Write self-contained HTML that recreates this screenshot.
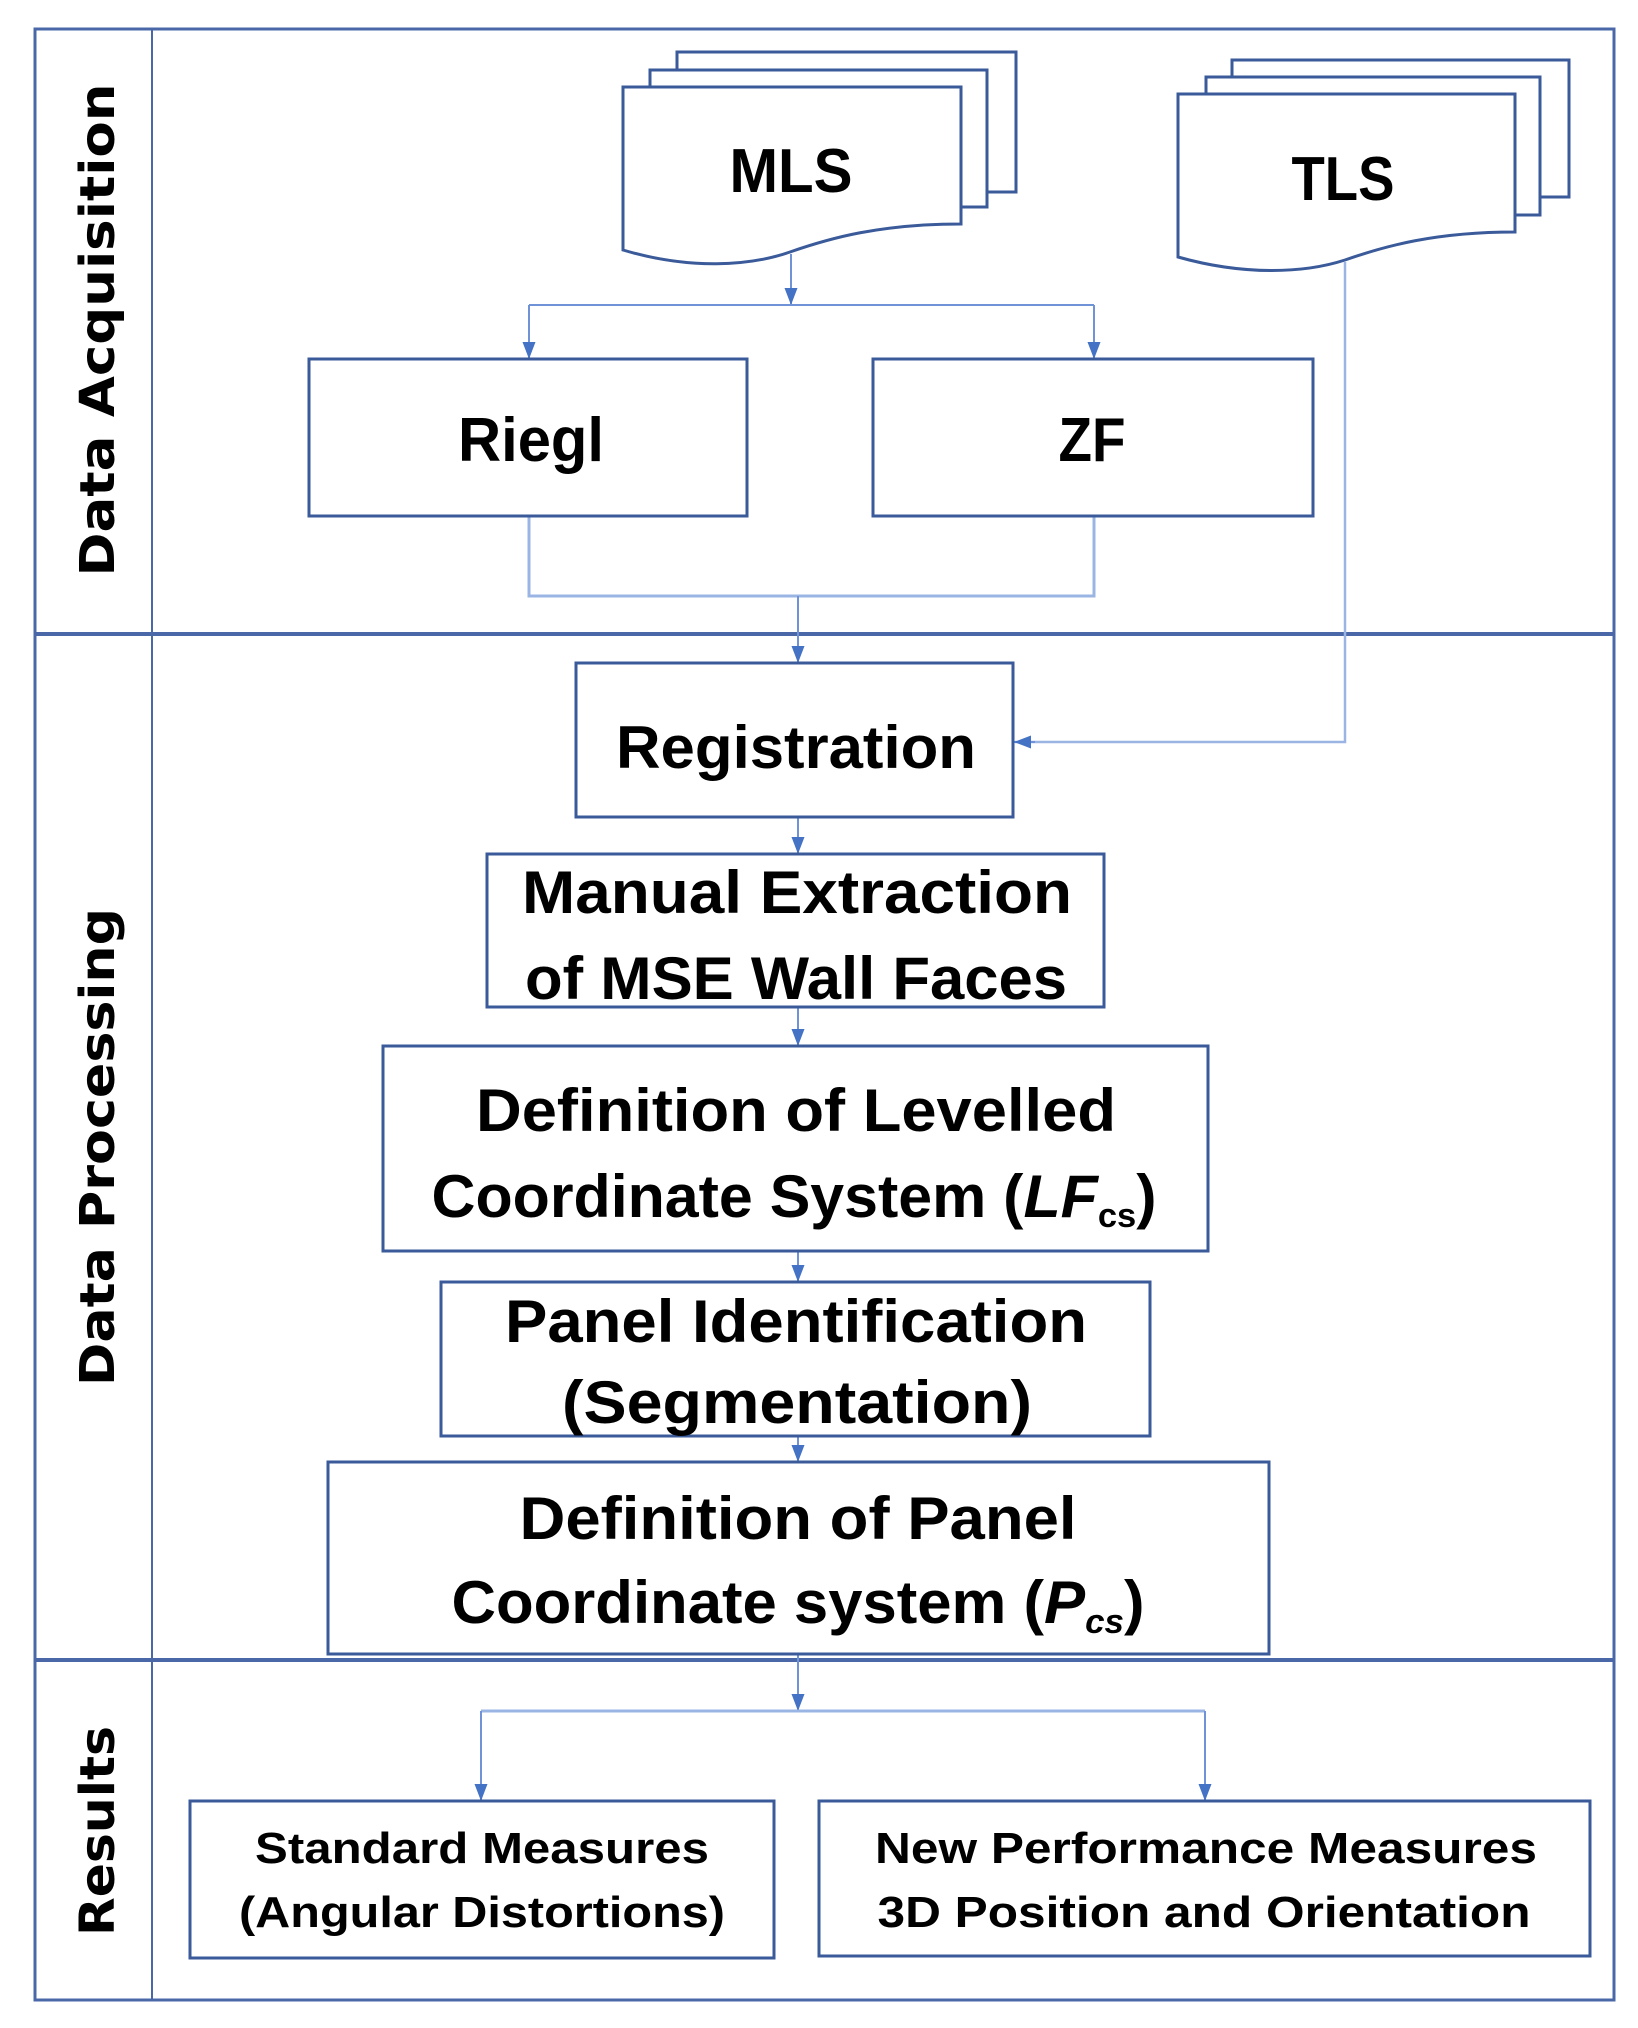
<!DOCTYPE html>
<html><head><meta charset="utf-8"><style>html,body{margin:0;padding:0;background:#fff}svg{display:block}</style></head><body>
<svg width="1638" height="2028" viewBox="0 0 1638 2028" xmlns="http://www.w3.org/2000/svg">
<defs>
<marker id="a" markerWidth="17" markerHeight="13" refX="17" refY="6.5" orient="auto" markerUnits="userSpaceOnUse" viewBox="0 0 17 13"><path d="M0,0 L17,6.5 L0,13 Z" fill="#4472c4"/></marker>
</defs>
<g fill="none" stroke="#4a68a8" stroke-width="3">
<rect x="35" y="29" width="1579" height="1971"/>
<line x1="152" y1="29" x2="152" y2="2000" stroke-width="2"/>
<line x1="35" y1="634" x2="1614" y2="634" stroke-width="4"/>
<line x1="35" y1="1660" x2="1614" y2="1660" stroke-width="4"/>
</g>
<g font-family="DejaVu Sans, sans-serif" font-weight="bold" font-size="48" fill="#000" text-anchor="middle">
<text transform="translate(114,330) rotate(-90)" textLength="493" lengthAdjust="spacingAndGlyphs">Data Acquisition</text>
<text transform="translate(114,1147) rotate(-90)" textLength="478" lengthAdjust="spacingAndGlyphs">Data Processing</text>
<text transform="translate(114,1831) rotate(-90)" textLength="210" lengthAdjust="spacingAndGlyphs">Results</text>
</g>
<g fill="#fff" stroke="#3a5a9a" stroke-width="3">
<rect x="677" y="52" width="339" height="140"/>
<rect x="650" y="70" width="337" height="137"/>
<path d="M623,87 H961 V224 C880,224 830,238 790,252 C750,266 690,270 623,250 Z"/>
<rect x="1232" y="60" width="337" height="137"/>
<rect x="1206" y="77" width="334" height="138"/>
<path d="M1178,94 H1515 V232 C1435,232 1385,246 1345,260 C1305,273 1245,276 1178,257 Z"/>
</g>
<g fill="none" stroke="#6f93d6" stroke-width="2">
<line x1="791" y1="254" x2="791" y2="305" marker-end="url(#a)"/>
<polyline points="529,305 1094,305"/>
<line x1="529" y1="305" x2="529" y2="359" marker-end="url(#a)"/>
<line x1="1094" y1="305" x2="1094" y2="359" marker-end="url(#a)"/>
<polyline points="529,516 529,596 1094,596 1094,516" stroke="#9ab4e4" stroke-width="3"/>
<line x1="798" y1="596" x2="798" y2="663" marker-end="url(#a)"/>
<polyline points="1345,262 1345,742 1015,742" stroke="#9ab4e4" stroke-width="2.5"/>
<line x1="1035" y1="742" x2="1014" y2="742" marker-end="url(#a)"/>
<line x1="798" y1="817" x2="798" y2="854" marker-end="url(#a)"/>
<line x1="798" y1="1007" x2="798" y2="1046" marker-end="url(#a)"/>
<line x1="798" y1="1251" x2="798" y2="1282" marker-end="url(#a)"/>
<line x1="798" y1="1436" x2="798" y2="1462" marker-end="url(#a)"/>
<line x1="798" y1="1654" x2="798" y2="1711" marker-end="url(#a)"/>
<polyline points="481,1711 1205,1711" stroke="#9ab4e4" stroke-width="3"/>
<line x1="481" y1="1711" x2="481" y2="1801" marker-end="url(#a)"/>
<line x1="1205" y1="1711" x2="1205" y2="1801" marker-end="url(#a)"/>
</g>
<g fill="#fff" stroke="#3a5a9a" stroke-width="3">
<rect x="309" y="359" width="438" height="157"/>
<rect x="873" y="359" width="440" height="157"/>
<rect x="576" y="663" width="437" height="154"/>
<rect x="487" y="854" width="617" height="153"/>
<rect x="383" y="1046" width="825" height="205"/>
<rect x="441" y="1282" width="709" height="154"/>
<rect x="328" y="1462" width="941" height="192"/>
<rect x="190" y="1801" width="584" height="157"/>
<rect x="819" y="1801" width="771" height="155"/>
</g>
<g font-family="Liberation Sans, sans-serif" font-weight="bold" fill="#000" text-anchor="middle">
<text x="791" y="192" font-size="62" textLength="123" lengthAdjust="spacingAndGlyphs">MLS</text>
<text x="1343" y="200" font-size="62" textLength="103" lengthAdjust="spacingAndGlyphs">TLS</text>
<text x="531" y="461" font-size="62" textLength="146" lengthAdjust="spacingAndGlyphs">Riegl</text>
<text x="1092" y="461" font-size="62" textLength="67" lengthAdjust="spacingAndGlyphs">ZF</text>
<text x="796" y="768" font-size="60" textLength="360" lengthAdjust="spacingAndGlyphs">Registration</text>
<text x="797" y="913" font-size="60" textLength="550" lengthAdjust="spacingAndGlyphs">Manual Extraction</text>
<text x="796" y="999" font-size="60" textLength="542" lengthAdjust="spacingAndGlyphs">of MSE Wall Faces</text>
<text x="796" y="1131" font-size="60" textLength="640" lengthAdjust="spacingAndGlyphs">Definition of Levelled</text>
<text x="794" y="1217" font-size="60" textLength="725" lengthAdjust="spacingAndGlyphs">Coordinate System (<tspan font-style="italic">LF</tspan><tspan font-size="34" dy="10">cs</tspan><tspan dy="-10">)</tspan></text>
<text x="796" y="1342" font-size="60" textLength="582" lengthAdjust="spacingAndGlyphs">Panel Identification</text>
<text x="797" y="1423" font-size="60" textLength="470" lengthAdjust="spacingAndGlyphs">(Segmentation)</text>
<text x="798" y="1539" font-size="60" textLength="557" lengthAdjust="spacingAndGlyphs">Definition of Panel</text>
<text x="798" y="1623" font-size="60" textLength="693" lengthAdjust="spacingAndGlyphs">Coordinate system (<tspan font-style="italic">P</tspan><tspan font-size="34" dy="10" font-style="italic">cs</tspan><tspan dy="-10">)</tspan></text>
<text x="482" y="1863" font-size="44" textLength="454" lengthAdjust="spacingAndGlyphs">Standard Measures</text>
<text x="482" y="1927" font-size="44" textLength="486" lengthAdjust="spacingAndGlyphs">(Angular Distortions)</text>
<text x="1206" y="1863" font-size="44" textLength="662" lengthAdjust="spacingAndGlyphs">New Performance Measures</text>
<text x="1204" y="1927" font-size="44" textLength="653" lengthAdjust="spacingAndGlyphs">3D Position and Orientation</text>
</g>
</svg>
</body></html>
